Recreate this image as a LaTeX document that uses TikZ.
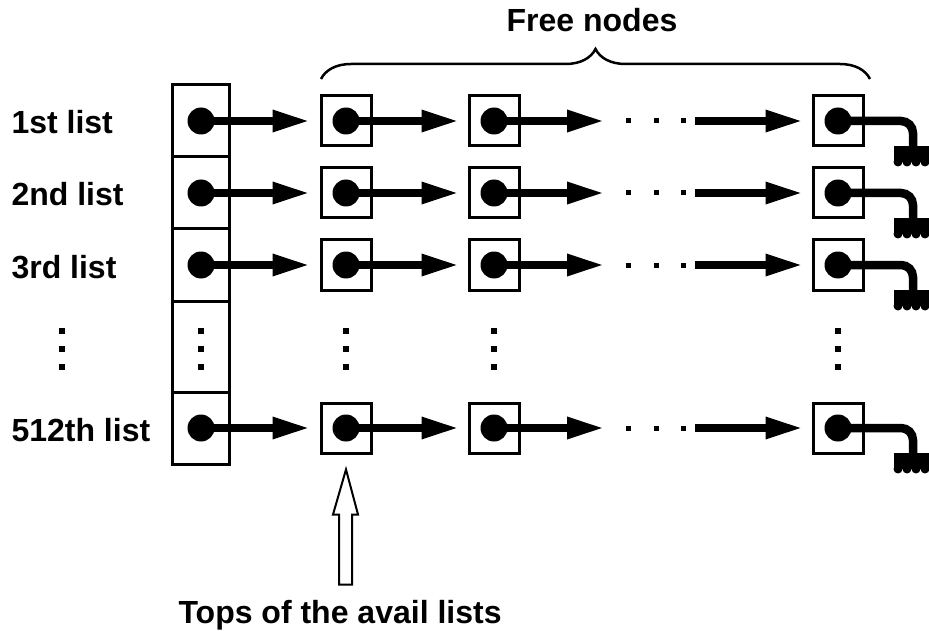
\documentclass[tikz,border=0pt]{standalone}
\usepackage{fontspec}
\setmainfont{Liberation Sans}
\usetikzlibrary{arrows.meta,decorations.pathreplacing}
\begin{document}
\begin{tikzpicture}[x=1pt,y=-1pt,
    cell/.style={draw,line width=3pt,minimum width=57pt,inner sep=0pt},
    freebox/.style={draw,line width=3pt,minimum size=50pt,inner sep=0pt},
    dot/.style={circle,fill,minimum size=27pt,inner sep=0pt},
    link/.style={line width=8.5pt,-{Triangle[length=38pt,width=20pt]}},
    lbl/.style={font=\bfseries\fontsize{32}{38}\selectfont}]
    \useasboundingbox (0,0) rectangle (929,631);
    % pointer column
    \foreach \r/\y/\h in {1/121/72,2/193/72,3/265/72,4/346.5/91,5/428/72}
        \node[cell,minimum height=\h pt] (c\r) at (201,\y) {};
    \foreach \r/\y/\t in {1/121/1st list,2/193/2nd list,3/265/3rd list,5/428/512th list}{
        \node[lbl,anchor=base west] (l\r) at (8,\y+13) {\t};
        \node[dot] (d\r) at (c\r) {};
        \foreach \j/\x in {1/346,2/494,3/838}{
            \node[freebox] (f\r\j) at (\x,\y) {};
            \node[dot] (g\r\j) at (f\r\j) {};
        }
        \coordinate (e\r) at (605,\y);
        \coordinate (s\r) at (695,\y);
        \draw[link] (d\r.center) -- ([xshift=-9pt]f\r1.west);
        \draw[link] (g\r1.center) -- ([xshift=-8pt]f\r2.west);
        \draw[link] (g\r2.center) -- (e\r);
        \foreach \x in {628,656,683} \fill (\x-2.5,\y-2.5) rectangle ++(5,5);
        \draw[link] (s\r) -- ([xshift=-8pt]f\r3.west);
        % ground at the end of each list
        \draw[line width=8.5pt,rounded corners=12pt] (g\r3.center) -- (913,\y) -- (913,\y+28);
        \fill (894,\y+25) rectangle (929,\y+41);
        \foreach \k in {0,...,3} \fill (898+\k*9,\y+41) circle (4.5);
    }
    \foreach \x in {62,201,346,494,838}
        \foreach \yy in {331,349,367} \fill (\x-2.8,\yy-2.8) rectangle ++(5.6,5.6);
    % free nodes
    \draw[line width=2.5pt,decorate,decoration={brace,amplitude=30pt}] (321,79) -- (870,79);
    \node[lbl,anchor=base] (free) at (592,32) {Free nodes};
    % tops
    \coordinate (top) at ([yshift=-15pt]f51.south);
    \draw[line width=2pt,fill=white] (top) -- ++(12,45) -- ++(-6,0) -- ++(0,70) -- ++(-13,0)
        -- ++(0,-70) -- ++(-6,0) -- cycle;
    \node[lbl,anchor=base west] (tops) at (175,623) {Tops of the avail lists};
\end{tikzpicture}
\end{document}
